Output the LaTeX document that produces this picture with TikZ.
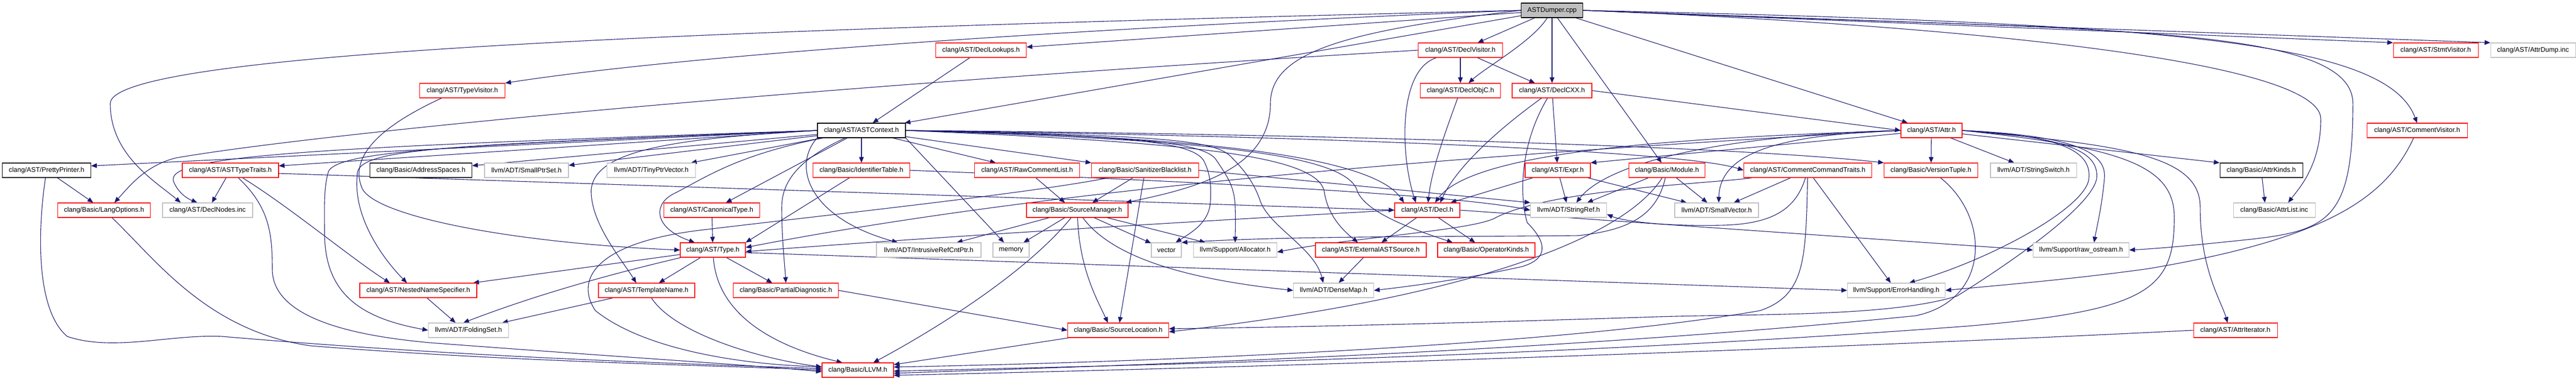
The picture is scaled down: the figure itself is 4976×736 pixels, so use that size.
\documentclass[tikz,border=0pt]{standalone}
\usepackage{fontspec}
\setmainfont{Liberation Sans}
\usetikzlibrary{arrows.meta,backgrounds}
\definecolor{edgec}{HTML}{191970}
\definecolor{grayb}{HTML}{BFBFBF}
\definecolor{redb}{HTML}{FF0000}
\tikzset{
 box/.style={draw, line width=1.1pt, fill=white, minimum height=28pt, inner sep=0pt, font=\fontsize{13}{15}\selectfont, anchor=center},
 rbox/.style={box, draw=redb},
 gbox/.style={box, draw=grayb},
 kbox/.style={box, draw=black},
 edge/.style={draw=edgec, line width=1.1pt, -{Triangle[length=11pt,width=9pt]}},
}
\begin{document}
\begin{tikzpicture}[x=1pt,y=-1pt]
\useasboundingbox (0,0) rectangle (4976,736);
% row 0
\node[kbox, fill=grayb, minimum width=119pt] (dumper) at (2998,20) {ASTDumper.cpp};
% row 1
\node[rbox, minimum width=175pt] (lookups) at (1895,97) {clang/AST/DeclLookups.h};
\node[rbox, minimum width=163pt] (dvisitor) at (2821,97) {clang/AST/DeclVisitor.h};
\node[rbox, minimum width=164pt] (svisitor) at (4705,97) {clang/AST/StmtVisitor.h};
\node[gbox, minimum width=164pt] (attrdump) at (4893,97) {clang/AST/AttrDump.inc};
% row 2
\node[rbox, minimum width=165pt] (tvisitor) at (893,175) {clang/AST/TypeVisitor.h};
\node[rbox, minimum width=155pt] (declobjc) at (2821,175) {clang/AST/DeclObjC.h};
\node[rbox, minimum width=154pt] (declcxx) at (2998,175) {clang/AST/DeclCXX.h};
% row 3
\node[kbox, minimum width=170pt] (astctx) at (1664,252) {clang/AST/ASTContext.h};
\node[rbox, minimum width=118pt] (attr) at (3731,252) {clang/AST/Attr.h};
\node[rbox, minimum width=194pt] (cvisitor) at (4669,252) {clang/AST/CommentVisitor.h};
% row 4
\node[kbox, minimum width=171pt] (pretty) at (90,329) {clang/AST/PrettyPrinter.h};
\node[rbox, minimum width=186pt] (asttt) at (445,329) {clang/AST/ASTTypeTraits.h};
\node[kbox, minimum width=197pt] (addr) at (813,329) {clang/Basic/AddressSpaces.h};
\node[gbox, minimum width=162pt] (smallptr) at (1017,329) {llvm/ADT/SmallPtrSet.h};
\node[gbox, minimum width=171pt] (tiny) at (1258,329) {llvm/ADT/TinyPtrVector.h};
\node[rbox, minimum width=187pt] (ident) at (1664,329) {clang/Basic/IdentifierTable.h};
\node[rbox, minimum width=203pt] (rawc) at (1984,329) {clang/AST/RawCommentList.h};
\node[rbox, minimum width=207pt] (sanit) at (2212,329) {clang/Basic/SanitizerBlacklist.h};
\node[rbox, minimum width=126pt] (expr) at (3009,329) {clang/AST/Expr.h};
\node[rbox, minimum width=147pt] (module) at (3220,329) {clang/Basic/Module.h};
\node[rbox, minimum width=247pt] (cct) at (3492,329) {clang/AST/CommentCommandTraits.h};
\node[rbox, minimum width=181pt] (version) at (3730,329) {clang/Basic/VersionTuple.h};
\node[gbox, minimum width=166pt] (sswitch) at (3928,329) {llvm/ADT/StringSwitch.h};
\node[kbox, minimum width=160pt] (attrkinds) at (4368,329) {clang/Basic/AttrKinds.h};
% row 5
\node[rbox, minimum width=179pt] (langopt) at (201,406) {clang/Basic/LangOptions.h};
\node[gbox, minimum width=174pt] (declnodes) at (401,406) {clang/AST/DeclNodes.inc};
\node[rbox, minimum width=185pt] (canon) at (1375,406) {clang/AST/CanonicalType.h};
\node[rbox, minimum width=196pt] (srcmgr) at (2081,406) {clang/Basic/SourceManager.h};
\node[rbox, minimum width=126pt] (decl) at (2757,406) {clang/AST/Decl.h};
\node[gbox, minimum width=147pt] (stringref) at (3030,406) {llvm/ADT/StringRef.h};
\node[gbox, minimum width=162pt] (smallvec) at (3316,406) {llvm/ADT/SmallVector.h};
\node[gbox, minimum width=158pt] (attrlist) at (4393,406) {clang/Basic/AttrList.inc};
% row 6
\node[rbox, minimum width=126pt] (type) at (1377,483) {clang/AST/Type.h};
\node[gbox, minimum width=202pt] (intrusive) at (1794,483) {llvm/ADT/IntrusiveRefCntPtr.h};
\node[gbox, minimum width=70pt] (memory) at (1953,483) {memory};
\node[gbox, minimum width=58pt] (vector) at (2253,483) {vector};
\node[gbox, minimum width=161pt] (alloc) at (2386,483) {llvm/Support/Allocator.h};
\node[rbox, minimum width=214pt] (extsrc) at (2648,483) {clang/AST/ExternalASTSource.h};
\node[rbox, minimum width=188pt] (opkinds) at (2871,483) {clang/Basic/OperatorKinds.h};
\node[gbox, minimum width=185pt] (rawos) at (4020,483) {llvm/Support/raw\_ostream.h};
% row 7
\node[rbox, minimum width=226pt] (nns) at (808,561) {clang/AST/NestedNameSpecifier.h};
\node[rbox, minimum width=186pt] (tname) at (1249,561) {clang/AST/TemplateName.h};
\node[rbox, minimum width=203pt] (pdiag) at (1518,561) {clang/Basic/PartialDiagnostic.h};
\node[gbox, minimum width=155pt] (densemap) at (2576,561) {llvm/ADT/DenseMap.h};
\node[gbox, minimum width=189pt] (errh) at (3663,561) {llvm/Support/ErrorHandling.h};
% row 8
\node[gbox, minimum width=155pt] (folding) at (905,638) {llvm/ADT/FoldingSet.h};
\node[rbox, minimum width=195pt] (srcloc) at (2160,638) {clang/Basic/SourceLocation.h};
\node[rbox, minimum width=162pt] (attriter) at (4318,638) {clang/AST/AttrIterator.h};
% row 9
\node[rbox, minimum width=138pt] (llvm) at (1657,715) {clang/Basic/LLVM.h};

\begin{pgfonlayer}{background}
\fill[white] (0,0) rectangle (4976,736);
% ASTDumper.cpp
\draw[edge] (dumper) -- (lookups);
\draw[edge] (dumper) -- (dvisitor);
\draw[edge] (dumper) .. controls (2960,80) and (2870,130) .. (declobjc);
\draw[edge] (dumper) -- (declcxx);
\draw[edge] (dumper.west) .. controls (2300,45) and (1400,95) .. (tvisitor.north east);
\draw[edge] (dumper) -- (astctx);
\draw[edge] (dumper.west) .. controls (1500,55) and (213,95) .. (213,200) .. controls (213,300) and (300,350) .. ([xshift=-52pt]declnodes.north);
\draw[edge] (dumper.west) .. controls (2600,60) and (2454,100) .. (2454,200) .. controls (2454,330) and (2300,365) .. ([xshift=-5pt]srcmgr.north east);
\draw[edge] (dumper) -- (module);
\draw[edge] (dumper) -- (attr);
\draw[edge] (dumper.east) -- (svisitor.north west);
\draw[edge] (dumper.east) -- (attrdump.north west);
\draw[edge] (dumper.east) .. controls (4200,45) and (4610,80) .. (cvisitor.north);
\draw[edge] (dumper.east) .. controls (4000,60) and (4545,40) .. (4545,200) .. controls (4545,420) and (4500,445) .. (4350,462) .. controls (4200,478) and (4150,481) .. (rawos.east);
\draw[edge] (dumper.east) .. controls (3700,45) and (4483,110) .. (4483,230) .. controls (4483,320) and (4440,365) .. ([xshift=27pt]attrlist.north);
% DeclLookups
\draw[edge] (lookups) -- (astctx);
% DeclVisitor
\draw[edge] (dvisitor) -- (declobjc);
\draw[edge] (dvisitor) -- (declcxx);
\draw[edge] (dvisitor) .. controls (2700,135) and (2705,300) .. ([xshift=-22pt]decl.north);
\draw[edge] (dvisitor.west) .. controls (1500,170) and (600,260) .. (340,305) .. controls (280,320) and (250,360) .. ([xshift=20pt]langopt.north);
% TypeVisitor
\draw[edge] ([xshift=-40pt]tvisitor.south) .. controls (700,260) and (680,320) .. (700,365) .. controls (730,420) and (1000,470) .. (type.west);
% DeclObjC
\draw[edge] (declobjc) .. controls (2790,260) and (2765,330) .. (decl);
% DeclCXX
\draw[edge] (declcxx.east) -- (attr.west);
\draw[edge] (declcxx) .. controls (2880,260) and (2810,330) .. ([xshift=25pt]decl.north);
\draw[edge] (declcxx) -- (expr);
\draw[edge] (declcxx) .. controls (2935,280) and (2935,380) .. (2950,430) .. controls (2990,470) and (2990,500) .. (2940,515) .. controls (2850,535) and (2750,550) .. (densemap.east);
% ASTContext
\draw[edge] (astctx.west) -- ([yshift=-6pt]pretty.north east);
\draw[edge] (astctx.west) -- ([yshift=-6pt]asttt.north east);
\draw[edge] (astctx) -- (addr);
\draw[edge] (astctx) -- (smallptr);
\draw[edge] (astctx) -- (tiny);
\draw[edge] (astctx) -- (ident);
\draw[edge] (astctx) -- (rawc);
\draw[edge] (astctx) -- (sanit);
\draw[edge] (astctx) -- (canon);
\draw[edge] (astctx.east) .. controls (2500,262) and (3250,290) .. (cct.west);
\draw[edge] (astctx.east) .. controls (2500,258) and (3350,282) .. (version.north west);
\draw[edge] (astctx.west) .. controls (600,285) and (320,300) .. (335,350) .. controls (345,375) and (365,385) .. ([xshift=-20pt]declnodes.north);
\draw[edge] (astctx) .. controls (1420,300) and (1360,345) .. (1300,375) .. controls (1262,395) and (1262,440) .. ([xshift=-35pt]type.north);
\draw[edge] (astctx.east) .. controls (2300,262) and (2650,300) .. ([xshift=-45pt]decl.north);
\draw[edge] (astctx.east) .. controls (2300,275) and (2545,300) .. (2558,370) .. controls (2565,420) and (2600,450) .. ([xshift=-25pt]extsrc.north);
\draw[edge] (astctx.east) .. controls (2350,270) and (2605,300) .. (2622,370) .. controls (2640,410) and (2720,440) .. ([xshift=-65pt]opkinds.north);
\draw[edge] (astctx.west) .. controls (850,282) and (685,285) .. (690,340) .. controls (682,420) and (740,500) .. ([xshift=-22pt]nns.north);
\draw[edge] (astctx.west) .. controls (900,280) and (660,290) .. (635,330) .. controls (625,360) and (627,400) .. (627,450) .. controls (627,570) and (700,615) .. (folding.west);
\draw[edge] (astctx.west) .. controls (1300,268) and (1150,290) .. (1142,366) .. controls (1140,430) and (1200,500) .. ([xshift=-20pt]tname.north);
\draw[edge] (astctx) .. controls (1560,300) and (1510,340) .. (1510,400) .. controls (1510,460) and (1515,500) .. (pdiag.north);
\draw[edge] (astctx.south west) .. controls (1530,320) and (1560,420) .. ([xshift=-60pt]intrusive.north);
\draw[edge] (astctx.south east) -- (memory);
\draw[edge] (astctx.east) .. controls (2150,262) and (2300,270) .. (2325,310) .. controls (2338,335) and (2340,360) .. (2338,390) .. controls (2336,430) and (2300,450) .. ([xshift=18pt]vector.north);
\draw[edge] (astctx.east) .. controls (2200,262) and (2330,275) .. (2350,310) .. controls (2370,340) and (2385,360) .. (2386,400) .. controls (2387,430) and (2386,450) .. (alloc.north);
\draw[edge] (astctx.east) .. controls (2250,262) and (2350,270) .. (2380,305) .. controls (2410,335) and (2425,360) .. (2435,390) .. controls (2455,440) and (2540,480) .. ([xshift=-20pt]densemap.north);
% PrettyPrinter
\draw[edge] (pretty) -- (langopt);
\draw[edge] (pretty) .. controls (72,450) and (70,600) .. (130,650) .. controls (220,680) and (330,645) .. (430,650) .. controls (900,690) and (1300,702) .. ([yshift=3pt]llvm.west);
% LangOptions
\draw[edge] (langopt) .. controls (300,500) and (400,640) .. (600,668) .. controls (1000,700) and (1400,706) .. (llvm.west);
% ASTTypeTraits
\draw[edge] (asttt) -- (declnodes);
\draw[edge] (asttt) .. controls (520,400) and (526,450) .. (526,520) .. controls (526,620) and (700,650) .. (830,662) .. controls (1200,690) and (1450,705) .. ([yshift=-3pt]llvm.west);
\draw[edge] (asttt) .. controls (560,400) and (680,500) .. ([xshift=-55pt]nns.north);
\draw[edge] ([yshift=-6pt]asttt.east) -- (decl.west);
% IdentifierTable
\draw[edge] (ident) -- (type.north east);
\draw[edge] (ident.east) .. controls (2300,350) and (2800,375) .. (stringref.west);
% NestedNameSpecifier
\draw[edge] (nns) -- ([xshift=-25pt]folding.north);
% Type
\draw[edge] (type) -- (nns);
\draw[edge] (type) .. controls (1220,520) and (1060,560) .. ([xshift=-10pt]folding.north);
\draw[edge] (type) -- (tname);
\draw[edge] (type) -- (pdiag);
\draw[edge] (type) .. controls (1385,600) and (1480,665) .. ([xshift=-30pt]llvm.north);
\draw[edge] ([yshift=-5pt]type.east) -- (errh.west);
% CanonicalType
\draw[edge] (canon) -- (type);
% TemplateName
\draw[edge] (tname) -- (folding);
\draw[edge] (tname) .. controls (1300,640) and (1450,690) .. ([yshift=6pt]llvm.west);
% PartialDiagnostic
\draw[edge] (pdiag.east) -- (srcloc.west);
% SourceManager
\draw[edge] (srcmgr) -- (intrusive);
\draw[edge] (srcmgr) -- (memory);
\draw[edge] (srcmgr) -- (vector);
\draw[edge] (srcmgr) -- (alloc);
\draw[edge] (srcmgr) .. controls (2085,520) and (2120,580) .. ([xshift=-20pt]srcloc.north);
\draw[edge] (srcmgr) .. controls (1980,530) and (1800,640) .. ([xshift=30pt]llvm.north);
\draw[edge] (srcmgr) .. controls (2150,500) and (2300,540) .. (densemap.west);
% SourceLocation
\draw[edge] (srcloc) -- (llvm);
% RawCommentList, SanitizerBlacklist
\draw[edge] (rawc) -- ([xshift=-24pt]srcmgr.north);
\draw[edge] (sanit) -- ([xshift=29pt]srcmgr.north);
\draw[edge] (sanit) -- (srcloc);
\draw[edge] (sanit.east) -- (stringref.north west);
\draw[edge] (sanit) .. controls (2000,372) and (1600,415) .. (1350,445) .. controls (1150,470) and (1110,540) .. (1150,600) .. controls (1250,680) and (1450,705) .. ([yshift=-8pt]llvm.north west);
% ExternalASTSource
\draw[edge] (extsrc) -- ([xshift=10pt]densemap.north);
% Decl
\draw[edge] (decl) -- (extsrc);
\draw[edge] (decl) -- (opkinds);
\draw[edge] (decl.west) .. controls (2300,428) and (1800,458) .. ([yshift=-3pt]type.east);
\draw[edge] (decl.east) -- (rawos.west);
% Expr
\draw[edge] (expr) -- ([xshift=45pt]decl.north);
\draw[edge] (expr) -- (stringref);
\draw[edge] (expr) -- (smallvec);
% Module
\draw[edge] (module) -- (stringref);
\draw[edge] (module) -- (smallvec);
\draw[edge] (module) .. controls (3200,420) and (3140,445) .. (3050,455) .. controls (2800,458) and (2500,455) .. (vector.north east);
\draw[edge] (module) .. controls (3130,470) and (2800,580) .. ([yshift=-3pt]srcloc.east);
% CommentCommandTraits
\draw[edge] (cct) -- (smallvec);
\draw[edge] (cct) .. controls (3470,400) and (3430,432) .. (3330,435) .. controls (3200,438) and (3130,425) .. ([yshift=-8pt]stringref.east);
\draw[edge] (cct) -- (errh);
\draw[edge] (cct) .. controls (3488,500) and (3488,570) .. (3400,600) .. controls (3000,670) and (2200,700) .. ([yshift=6pt]llvm.east);
\draw[edge] (cct) .. controls (3300,355) and (3000,365) .. (2890,420) .. controls (2850,445) and (2600,460) .. ([yshift=-4pt]alloc.east);
% VersionTuple
\draw[edge] (version) .. controls (3845,420) and (3845,580) .. (3700,610) .. controls (3000,680) and (2200,705) .. ([yshift=-6pt]llvm.east);
% Attr
\draw[edge] (attr.east) .. controls (4100,280) and (4250,300) .. (4250,400) .. controls (4250,520) and (4290,580) .. ([xshift=-15pt]attriter.north);
\draw[edge] (attr) -- (attrkinds.north west);
\draw[edge] (attr) -- (version);
\draw[edge] (attr) -- (sswitch);
\draw[edge] (attr) -- (expr.north east);
\draw[edge] (attr.west) .. controls (3300,265) and (2850,285) .. ([xshift=15pt]decl.north);
\draw[edge] (attr.west) .. controls (3000,290) and (2100,350) .. ([yshift=5pt]type.east);
\draw[edge] (attr.west) .. controls (3300,262) and (3100,320) .. ([xshift=15pt]stringref.north);
\draw[edge] (attr.west) .. controls (3450,260) and (3322,290) .. ([xshift=4pt]smallvec.north);
\draw[edge] (attr.east) .. controls (3990,262) and (4040,295) .. (4035,345) .. controls (4030,400) and (3850,500) .. ([xshift=25pt]errh.north);
\draw[edge] (attr.east) .. controls (4010,262) and (4070,295) .. (4065,345) .. controls (4060,400) and (4050,440) .. ([xshift=25pt]rawos.north);
\draw[edge] (attr.east) .. controls (4000,265) and (4055,295) .. (4050,345) .. controls (4040,400) and (3880,510) .. (3780,572) .. controls (3650,612) and (3400,606) .. (3200,612) .. controls (2800,625) and (2500,632) .. ([yshift=3pt]srcloc.east);
\draw[edge] (attr.east) .. controls (4100,285) and (4200,320) .. (4200,420) .. controls (4200,560) and (4150,600) .. (3800,630) .. controls (3000,690) and (2200,705) .. ([yshift=-2pt]llvm.east);
% AttrIterator
\draw[edge] (attriter.west) .. controls (3500,675) and (2500,708) .. ([yshift=-10pt]llvm.east);
% CommentVisitor
\draw[edge] (cvisitor) .. controls (4610,380) and (4500,460) .. (4150,519) .. controls (4000,540) and (3850,552) .. (errh.east);
% AttrKinds
\draw[edge] (attrkinds) -- ([xshift=-18pt]attrlist.north);
\end{pgfonlayer}
\end{tikzpicture}
\end{document}
